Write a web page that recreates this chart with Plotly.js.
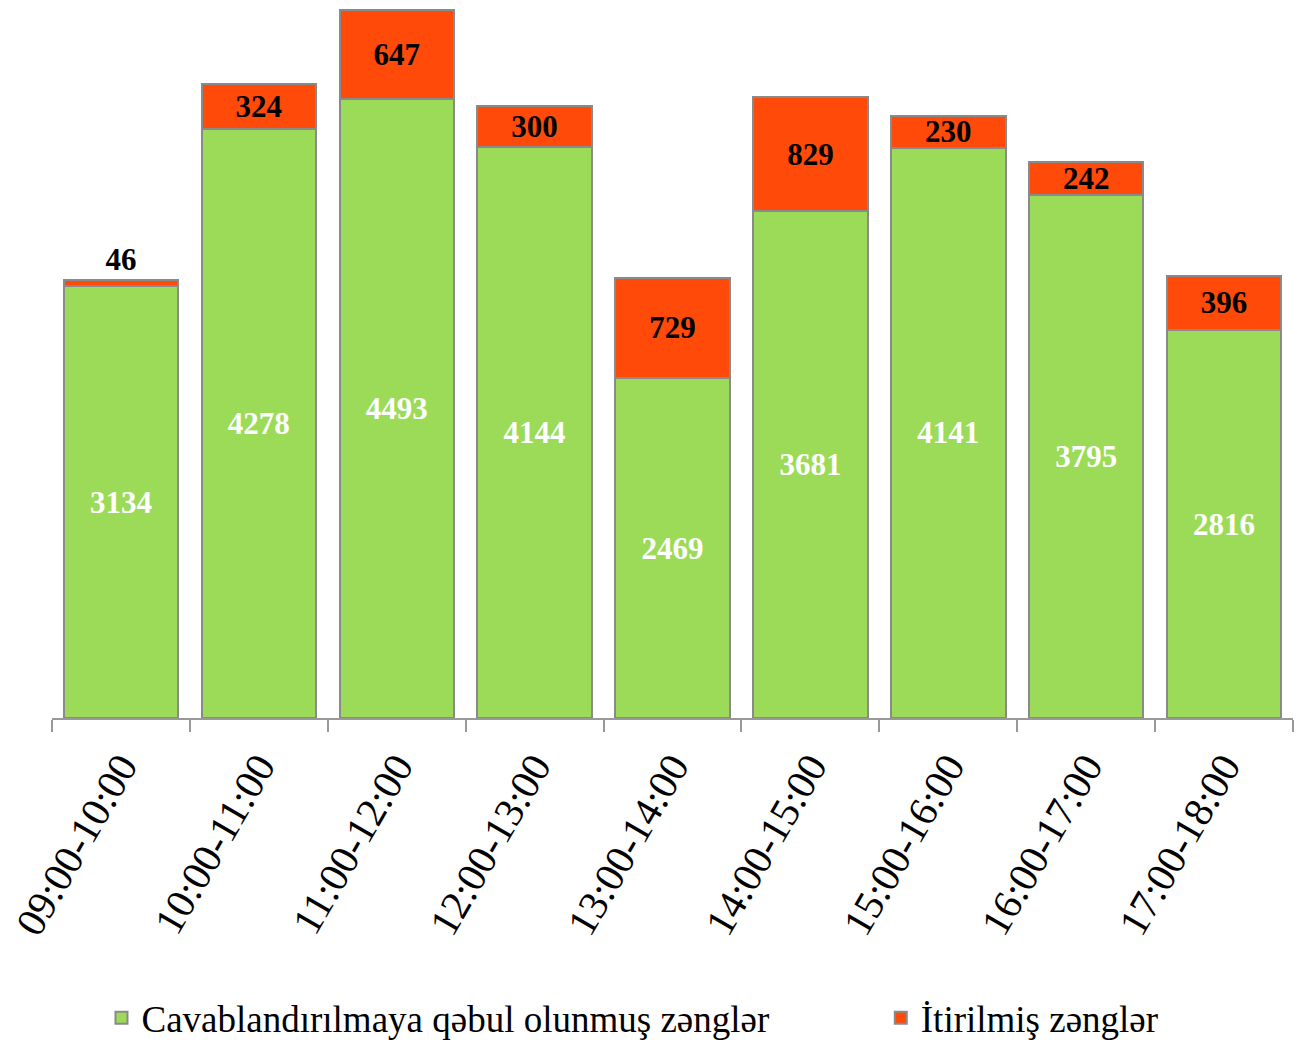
<!DOCTYPE html>
<html>
<head>
<meta charset="utf-8">
<script src="https://cdn.plot.ly/plotly-3.0.1.min.js"></script>
<style>html,body{margin:0;padding:0;background:#fff}#chart{width:1301px;height:1041px}</style>
</head>
<body>
<div id="chart"></div>
<script>
const categories = ["09:00-10:00","10:00-11:00","11:00-12:00","12:00-13:00","13:00-14:00","14:00-15:00","15:00-16:00","16:00-17:00","17:00-18:00"];
const answered = [3134,4278,4493,4144,2469,3681,4141,3795,2816];
const lost = [46,324,647,300,729,829,230,242,396];
const seriesNames = ["Cavablandırılmaya qəbul olunmuş zənglər","İtirilmiş zənglər"];

const serif = "Liberation Serif, Times New Roman, serif";
const traces = [
  {
    type: "bar", name: seriesNames[0], x: categories, y: answered,
    legend: "legend",
    marker: {color: "#9BDB58", line: {color: "#8a8a8a", width: 2}},
    text: answered.map(String), textposition: "inside", insidetextanchor: "middle",
    constraintext: "none",
    textfont: {family: serif, size: 31, color: "#ffffff", weight: "bold"},
    hoverinfo: "skip"
  },
  {
    type: "bar", name: seriesNames[1], x: categories, y: lost,
    legend: "legend2",
    marker: {color: "#FF4A0A", line: {color: "#8a8a8a", width: 2}},
    text: lost.map(String),
    textposition: lost.map(v => v < 100 ? "outside" : "inside"),
    insidetextanchor: "middle", constraintext: "none", cliponaxis: false,
    textfont: {family: serif, size: 31, color: "#000000", weight: "bold"},
    hoverinfo: "skip"
  }
];

const legendFont = {family: serif, size: 37, color: "#000"};
const layout = {
  width: 1301, height: 1041,
  barmode: "stack", bargap: 0.17,
  margin: {l: 52, r: 8, t: 2, b: 323},
  paper_bgcolor: "#ffffff", plot_bgcolor: "#ffffff",
  showlegend: true,
  legend: {
    orientation: "h", xref: "container", yref: "container",
    x: 0.078, y: 0.022, xanchor: "left", yanchor: "middle",
    font: legendFont
  },
  legend2: {
    orientation: "h", xref: "container", yref: "container",
    x: 0.677, y: 0.022, xanchor: "left", yanchor: "middle",
    font: legendFont
  },
  xaxis: {
    type: "category", tickson: "boundaries", ticks: "outside", ticklen: 12,
    tickcolor: "#999", tickwidth: 2, showline: true, linecolor: "#999", linewidth: 2,
    tickangle: -60, ticklabelstandoff: 6,
    tickfont: {family: serif, size: 41, color: "#000"},
    showgrid: false, zeroline: false
  },
  yaxis: {range: [0, 5200], visible: false, showgrid: false, zeroline: false}
};

Plotly.newPlot("chart", traces, layout, {displayModeBar: false, staticPlot: true});
</script>
</body>
</html>
